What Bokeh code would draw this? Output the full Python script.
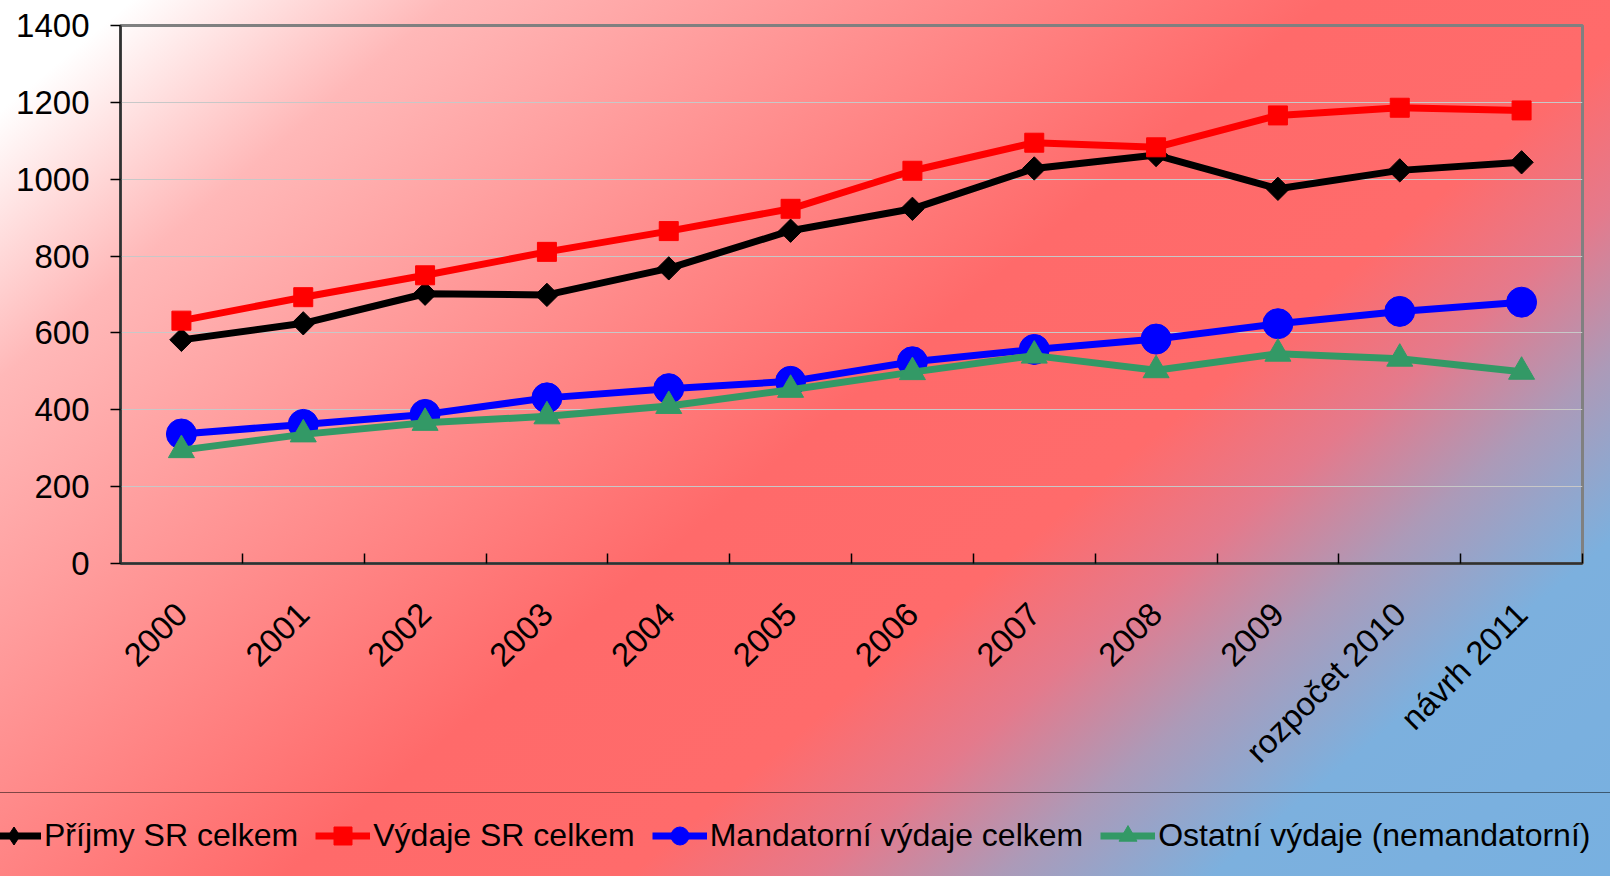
import math
from bokeh.plotting import figure
from bokeh.layouts import column
from bokeh.models import (Range1d, LinearAxis, FixedTicker, Legend, LegendItem)
from bokeh.embed import file_html
from bokeh.resources import INLINE

# ---- data ----
years = ["2000", "2001", "2002", "2003", "2004", "2005", "2006", "2007",
         "2008", "2009", "rozpočet 2010", "návrh 2011"]
prijmy = [582, 625, 702, 699, 768, 866, 923, 1028, 1063, 975, 1023, 1044]
vydaje = [632, 693, 750, 811, 865, 923, 1022, 1095, 1083, 1166, 1186, 1179]
mandatorni = [337, 362, 388, 431, 455, 474, 525, 557, 584, 624, 656, 680]
ostatni = [295, 336, 366, 383, 410, 452, 498, 541, 503, 546, 533, 499]
y_ticks = [0, 200, 400, 600, 800, 1000, 1200, 1400]
series_names = ["Příjmy SR celkem", "Výdaje SR celkem",
                "Mandatorní výdaje celkem", "Ostatní výdaje (nemandatorní)"]

FONT = "Liberation Sans"
W, H, H_MAIN = 1610, 876, 791
GRAD = ("linear-gradient(140deg, #ffffff 0%, #ffffff 5%, #ffb8b8 17%, "
        "#ff9292 33%, #ff6a6a 50%, #ff6b6b 63%, #e47a8c 70%, #ac9ab8 77%, "
        "#7cb0de 85%, #78b0e0 100%)")


def bg(offset_y):
    return {"background-image": GRAD,
            "background-size": f"{W}px {H}px",
            "background-position": f"0px {-offset_y}px",
            "background-repeat": "no-repeat"}


# category slots: centre of slot i is i + 0.5, slot boundaries at integers
xc = [i + 0.5 for i in range(len(years))]

p = figure(width=W, height=H_MAIN, output_backend="svg", toolbar_location=None,
           x_range=Range1d(0, len(years)),
           y_range=Range1d(0, 1400),
           x_axis_location=None,
           min_border_left=120, min_border_right=28,
           min_border_top=25, min_border_bottom=H_MAIN - 563)
p.background_fill_color = None
p.border_fill_color = None
p.styles = bg(0)
p.outline_line_color = "#808080"
p.outline_line_width = 3

# y axis
ya = p.yaxis[0]
ya.ticker = FixedTicker(ticks=y_ticks)
ya.major_label_text_font = FONT
ya.major_label_text_font_size = "33px"
ya.major_label_text_color = "black"
ya.major_tick_out = 10
ya.major_tick_in = 0
ya.minor_tick_out = 0
ya.minor_tick_in = 0
ya.major_label_standoff = 21
ya.axis_line_color = "#303030"
ya.axis_line_width = 2.5
ya.major_tick_line_color = "black"
ya.major_tick_line_width = 1.5

p.ygrid.grid_line_color = "#c8c8c8"
p.ygrid.grid_line_width = 1
p.xgrid.grid_line_color = None

# x axis: boundary ticks
nb = len(years) + 1
bax = LinearAxis(ticker=FixedTicker(ticks=list(range(nb))),
                 major_label_overrides={i: "" for i in range(nb)},
                 major_tick_in=10, major_tick_out=0,
                 minor_tick_in=0, minor_tick_out=0,
                 major_label_standoff=0,
                 major_label_text_font_size="1px",
                 axis_line_color="#303030", axis_line_width=2.5,
                 major_tick_line_color="black", major_tick_line_width=1.5)
p.add_layout(bax, "below")

# x axis: category labels at slot centres
cax = LinearAxis(ticker=FixedTicker(ticks=xc),
                 major_label_overrides={x: y for x, y in zip(xc, years)},
                 major_tick_in=0, major_tick_out=0,
                 minor_tick_in=0, minor_tick_out=0,
                 axis_line_color=None, major_tick_line_color=None,
                 major_label_orientation=math.pi / 4,
                 major_label_text_font=FONT,
                 major_label_text_font_size="33px",
                 major_label_text_color="black",
                 major_label_standoff=45)
p.add_layout(cax, "below")

# series
specs = [
    (prijmy, "black", "square", 16.5, math.pi / 4, "diamond"),
    (vydaje, "#ff0000", "square", 19, 0, "square"),
    (mandatorni, "#0000ff", "circle", 30, 0, "circle"),
    (ostatni, "#339966", "triangle", 26, 0, "triangle"),
]
for vals, col, mk, sz, ang, _ in specs:
    p.line(xc, vals, line_color=col, line_width=7)
    p.scatter(xc, vals, marker=mk, size=sz, angle=ang,
              fill_color=col, line_color=col)

# ---- legend strip (continues the same background) ----
pl = figure(width=W, height=H - H_MAIN, output_backend="svg",
            toolbar_location=None, x_range=Range1d(0, 1), y_range=Range1d(0, 1),
            x_axis_location=None, y_axis_location=None,
            min_border=0)
pl.background_fill_color = None
pl.border_fill_color = None
pl.outline_line_color = None
pl.grid.visible = False
pl.styles = bg(H_MAIN)

for f in (p, pl):
    if "frame_align" in f.properties():
        f.frame_align = False

items = []
for name, (vals, col, mk, sz, ang, lmk) in zip(series_names, specs):
    lr = pl.line([5, 6], [5, 5], line_color=col, line_width=7)
    sr = pl.scatter([5], [5], marker=lmk, size=sz,
                    fill_color=col, line_color=col)
    items.append(LegendItem(label=name, renderers=[lr, sr]))

legend = Legend(items=items, orientation="horizontal",
                location=(-35, -3),
                label_text_font=FONT, label_text_font_size="32px",
                label_text_color="black",
                glyph_width=55, glyph_height=45, label_height=45,
                label_standoff=3, spacing=17, padding=20, margin=0,
                border_line_color="black", border_line_width=1.5,
                background_fill_alpha=0)
pl.add_layout(legend, "center")

layout = column(p, pl, spacing=0)
open("out.html", "w").write(file_html(layout, INLINE))
